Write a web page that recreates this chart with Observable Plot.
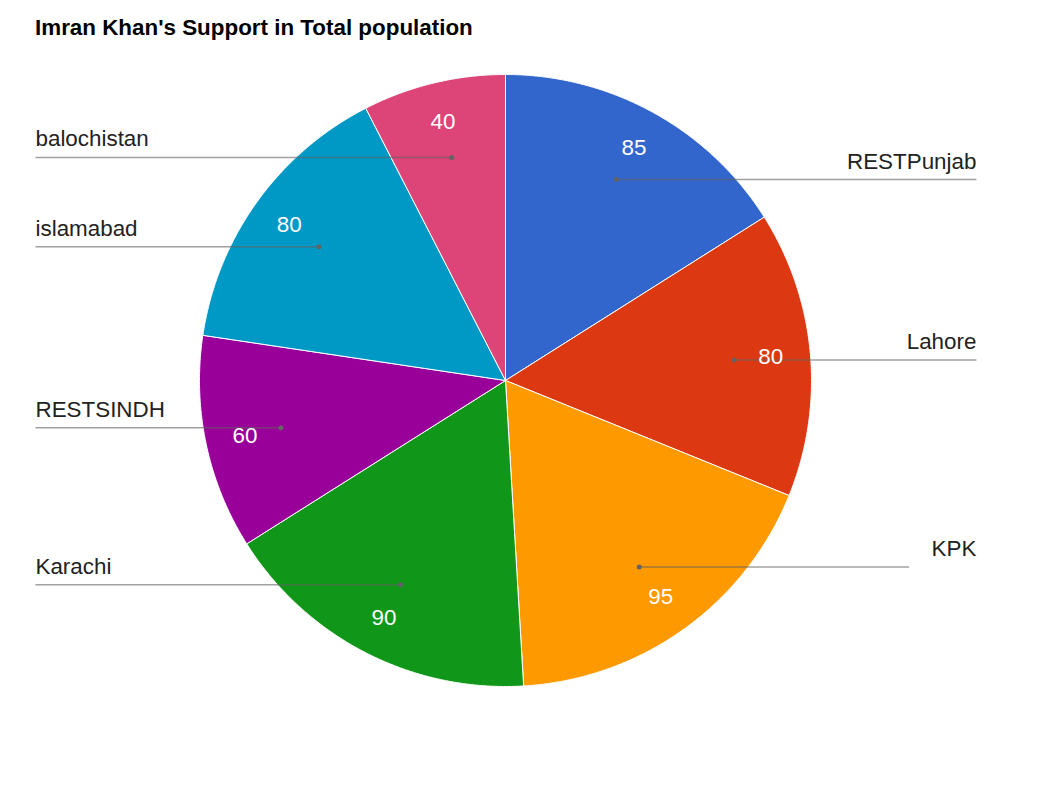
<!DOCTYPE html>
<html>
<head>
<meta charset="utf-8">
<script src="https://cdn.jsdelivr.net/npm/d3@7"></script>
<script src="https://cdn.jsdelivr.net/npm/@observablehq/plot@0.6"></script>
<style>
  html, body { margin: 0; padding: 0; background: #fff; }
  #title { height: 55px; box-sizing: border-box; padding: 17px 0 0 35px; font: bold 22.4px "Liberation Sans", Arial, sans-serif; line-height: 22px; color: #000; }
  #chart svg { display: block; }
</style>
</head>
<body>
<div id="title">Imran Khan's Support in Total population</div>
<div id="chart"></div>
<script>
// Data
const categories = ["RESTPunjab", "Lahore", "KPK", "Karachi", "RESTSINDH", "islamabad", "balochistan"];
const values = [85, 80, 95, 90, 60, 80, 40];
const colors = ["#3366cc", "#dc3912", "#ff9900", "#109618", "#990099", "#0099c6", "#dd4477"];

// Layout (unit circle coordinates)
const dotR = 0.75, valueR = 0.87;
const leftX = -1.536, rightX = 1.539;
const lineEndOverride = {KPK: 1.319};

const rows = categories.map((name, i) => ({name, value: values[i]}));
const arcs = d3.pie().sort(null).value(d => d.value)(rows);

// Slice outlines: center -> arc -> center
const slicePts = [];
for (const a of arcs) {
  slicePts.push({name: a.data.name, x: 0, y: 0});
  const n = Math.max(2, Math.ceil((a.endAngle - a.startAngle) / (Math.PI / 720)));
  for (let k = 0; k <= n; k++) {
    const t = a.startAngle + (a.endAngle - a.startAngle) * k / n;
    slicePts.push({name: a.data.name, x: Math.sin(t), y: Math.cos(t)});
  }
  slicePts.push({name: a.data.name, x: 0, y: 0});
}

const labels = arcs.map(a => {
  const m = (a.startAngle + a.endAngle) / 2;
  const right = m < Math.PI;
  const dx = dotR * Math.sin(m), dy = dotR * Math.cos(m);
  return {
    name: a.data.name,
    value: a.data.value,
    right,
    dx, dy,
    vx: valueR * Math.sin(m), vy: valueR * Math.cos(m),
    lx: right ? rightX : leftX,
    lineEnd: right ? (lineEndOverride[a.data.name] ?? rightX) : leftX
  };
});

const font = '"Liberation Sans", Arial, sans-serif';

const chart = Plot.plot({
  width: 1053,
  height: 730,
  margin: 0,
  style: {fontFamily: font, background: "#fff"},
  x: {domain: [-505 / 306, 548 / 306], axis: null},
  y: {domain: [-405 / 306, 325 / 306], axis: null},
  color: {domain: categories, range: colors},
  marks: [
    Plot.line(slicePts, {x: "x", y: "y", z: "name", fill: "name", stroke: "#fff", strokeWidth: 1, curve: "linear"}),
    Plot.link(labels, {x1: "dx", y1: "dy", x2: "lineEnd", y2: "dy", stroke: "#636363", strokeOpacity: 0.6, strokeWidth: 1.5}),
    Plot.dot(labels, {x: "dx", y: "dy", r: 2.5, fill: "#636363", stroke: null}),
    Plot.text(labels, {x: "vx", y: "vy", text: d => String(d.value), fill: "#fff", fontSize: 22.4, textAnchor: "middle"}),
    Plot.text(labels.filter(d => !d.right), {x: "lx", y: "dy", text: "name", fill: "#222", fontSize: 22.4, textAnchor: "start", lineAnchor: "bottom", dy: -11}),
    Plot.text(labels.filter(d => d.right), {x: "lx", y: "dy", text: "name", fill: "#222", fontSize: 22.4, textAnchor: "end", lineAnchor: "bottom", dy: -11})
  ]
});
document.getElementById("chart").appendChild(chart);
</script>
</body>
</html>
